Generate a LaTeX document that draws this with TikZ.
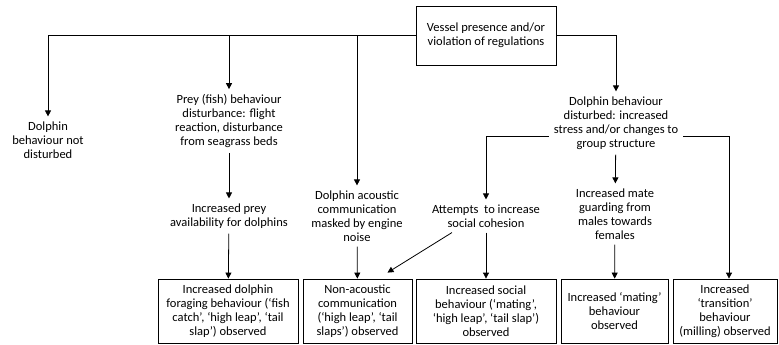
\documentclass[tikz,border=0pt]{standalone}
\usepackage{fontspec}
\setmainfont{Carlito}
\usetikzlibrary{arrows.meta}
\begin{document}
\begin{tikzpicture}[x=1pt,y=-1pt,
  every node/.style={font=\fontsize{12.5}{14}\selectfont,align=center},
  txt/.style={inner sep=5pt},
  box/.style={draw,line width=0.8pt,minimum height=64pt,inner sep=0pt},
  arr/.style={line width=0.8pt,-{Triangle[width=6pt,length=6pt]}},
  ln/.style={line width=0.8pt}]
\useasboundingbox (0,0) rectangle (779,345);
% top
\node[box,minimum width=140pt,minimum height=59pt] (vessel) at (486,35.5) {Vessel presence and/or\\violation of regulations};
% middle row
\node[txt] (notdist) at (48,140) {Dolphin\\behaviour not\\disturbed};
\node[txt] (prey) at (229,121) {Prey (fish) behaviour\\disturbance: flight\\reaction, disturbance\\from seagrass beds};
\node[txt] (dist) at (616,123) {Dolphin behaviour\\disturbed: increased\\stress and/or changes to\\group structure};
\node[txt] (avail) at (229,216) {Increased prey\\availability for dolphins};
\node[txt] (acoustic) at (357,216) {Dolphin acoustic\\communication\\masked by engine\\noise};
\node[txt] (cohesion) at (486,216) {Attempts~ to increase\\social cohesion};
\node[txt] (mate) at (615,214) {Increased mate\\guarding from\\males towards\\females};
% bottom boxes
\node[box,minimum width=140pt] (forage) at (228,311) {Increased dolphin\\foraging behaviour (‘fish\\catch’, ‘high leap’, ‘tail\\slap’) observed};
\node[box,minimum width=109pt] (nonac) at (357.5,311) {Non-acoustic\\communication\\(‘high leap’, ‘tail\\slaps’) observed};
\node[box,minimum width=140pt] (social) at (486,311) {Increased social\\behaviour (‘mating’,\\‘high leap’, ‘tail slap’)\\observed};
\node[box,minimum width=107pt] (mating) at (614.5,311) {Increased ‘mating’\\behaviour\\observed};
\node[box,minimum width=104pt] (trans) at (725,311) {Increased\\‘transition’\\behaviour\\(milling) observed};
% connectors
\draw[arr] (vessel.west) -| (notdist.north);
\coordinate (j1) at (prey.north |- vessel.west);
\coordinate (j2) at (acoustic.north |- vessel.west);
\draw[arr] (j1) -- (prey.north);
\draw[arr] (j2) -- (acoustic.north);
\draw[arr] (vessel.east) -| (dist.north);
\draw[arr] (prey) -- (avail);
\draw[arr] (avail) -- (forage);
\draw[arr] (acoustic) -- (nonac);
\draw[arr] ([yshift=-13pt]dist.west) -| (cohesion.north);
\draw[arr] (dist) -- (mate);
\draw[arr] ([yshift=-13pt]dist.east) -| ([xshift=4pt]trans.north);
\draw[arr] (cohesion) -- (social);
\draw[arr] ([xshift=-34pt]cohesion.south) -- ([xshift=30pt,yshift=6pt]nonac.north);
\draw[arr] (mate) -- (mating);
\end{tikzpicture}
\end{document}
